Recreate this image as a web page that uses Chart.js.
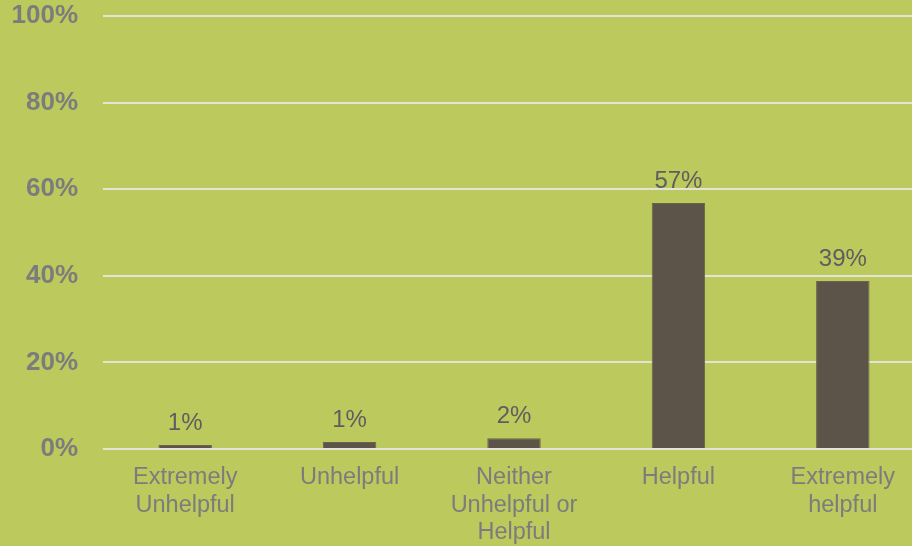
<!DOCTYPE html>
<html>
<head>
<meta charset="utf-8">
<script src="https://cdn.jsdelivr.net/npm/chart.js@4/dist/chart.umd.min.js"></script>
<style>
  html, body { margin: 0; padding: 0; background: #bbc95d; overflow: hidden; }
  #wrap { width: 912px; height: 546px; overflow: hidden; }
</style>
</head>
<body>
<div id="wrap"><canvas id="chart" width="930" height="546"></canvas></div>
<script>
// Chart data
const categories = [
  ["Extremely", "Unhelpful"],
  "Unhelpful",
  ["Neither", "Unhelpful or", "Helpful"],
  "Helpful",
  ["Extremely", "helpful"]
];
const values = [0.9, 1.6, 2.5, 56.8, 38.8];
const valueLabels = ["1%", "1%", "2%", "57%", "39%"];
const yTicks = [0, 20, 40, 60, 80, 100];

// draw the % text above each bar
const barLabels = {
  id: "barLabels",
  afterDatasetsDraw(chart) {
    const ctx = chart.ctx;
    const meta = chart.getDatasetMeta(0);
    ctx.save();
    ctx.font = "24px 'Liberation Sans', Arial, sans-serif";
    ctx.fillStyle = "#5e5e5e";
    ctx.textAlign = "center";
    ctx.textBaseline = "alphabetic";
    meta.data.forEach((bar, i) => {
      ctx.fillText(valueLabels[i], bar.x, bar.y - 15);
    });
    ctx.restore();
  }
};

new Chart(document.getElementById("chart"), {
  type: "bar",
  data: {
    labels: categories,
    datasets: [{
      data: values,
      backgroundColor: "#5c5449",
      borderColor: "#6b6350",
      borderWidth: 1,
      barPercentage: 0.325,
      categoryPercentage: 1
    }]
  },
  options: {
    responsive: false,
    animation: false,
    layout: { padding: { top: 0, right: 5, left: 0, bottom: 0 } },
    plugins: { legend: { display: false }, tooltip: { enabled: false } },
    scales: {
      x: {
        grid: { display: false, drawTicks: false },
        border: { display: false },
        ticks: {
          color: "#7c7c7c",
          padding: 15,
          maxRotation: 0,
          autoSkip: false,
          font: { family: "'Liberation Sans', Arial, sans-serif", size: 23.5, lineHeight: 1.17 }
        },
        afterFit(scale) { scale.height = 97; }
      },
      y: {
        min: 0,
        max: 100,
        afterBuildTicks(scale) { scale.ticks = yTicks.map(v => ({ value: v })); },
        grid: { color: "#e2e4d6", lineWidth: 2, drawTicks: false },
        border: { display: false },
        ticks: {
          color: "#7c7c7c",
          padding: 25,
          font: { family: "'Liberation Sans', Arial, sans-serif", size: 26, weight: "bold" },
          callback: v => v + "%"
        },
        afterFit(scale) {
          scale.width = 103;
          // top gridline sits 16px below the canvas edge
          scale.paddingTop = 16;
          scale.paddingBottom = 0;
        }
      }
    }
  },
  plugins: [barLabels]
});
</script>
</body>
</html>
